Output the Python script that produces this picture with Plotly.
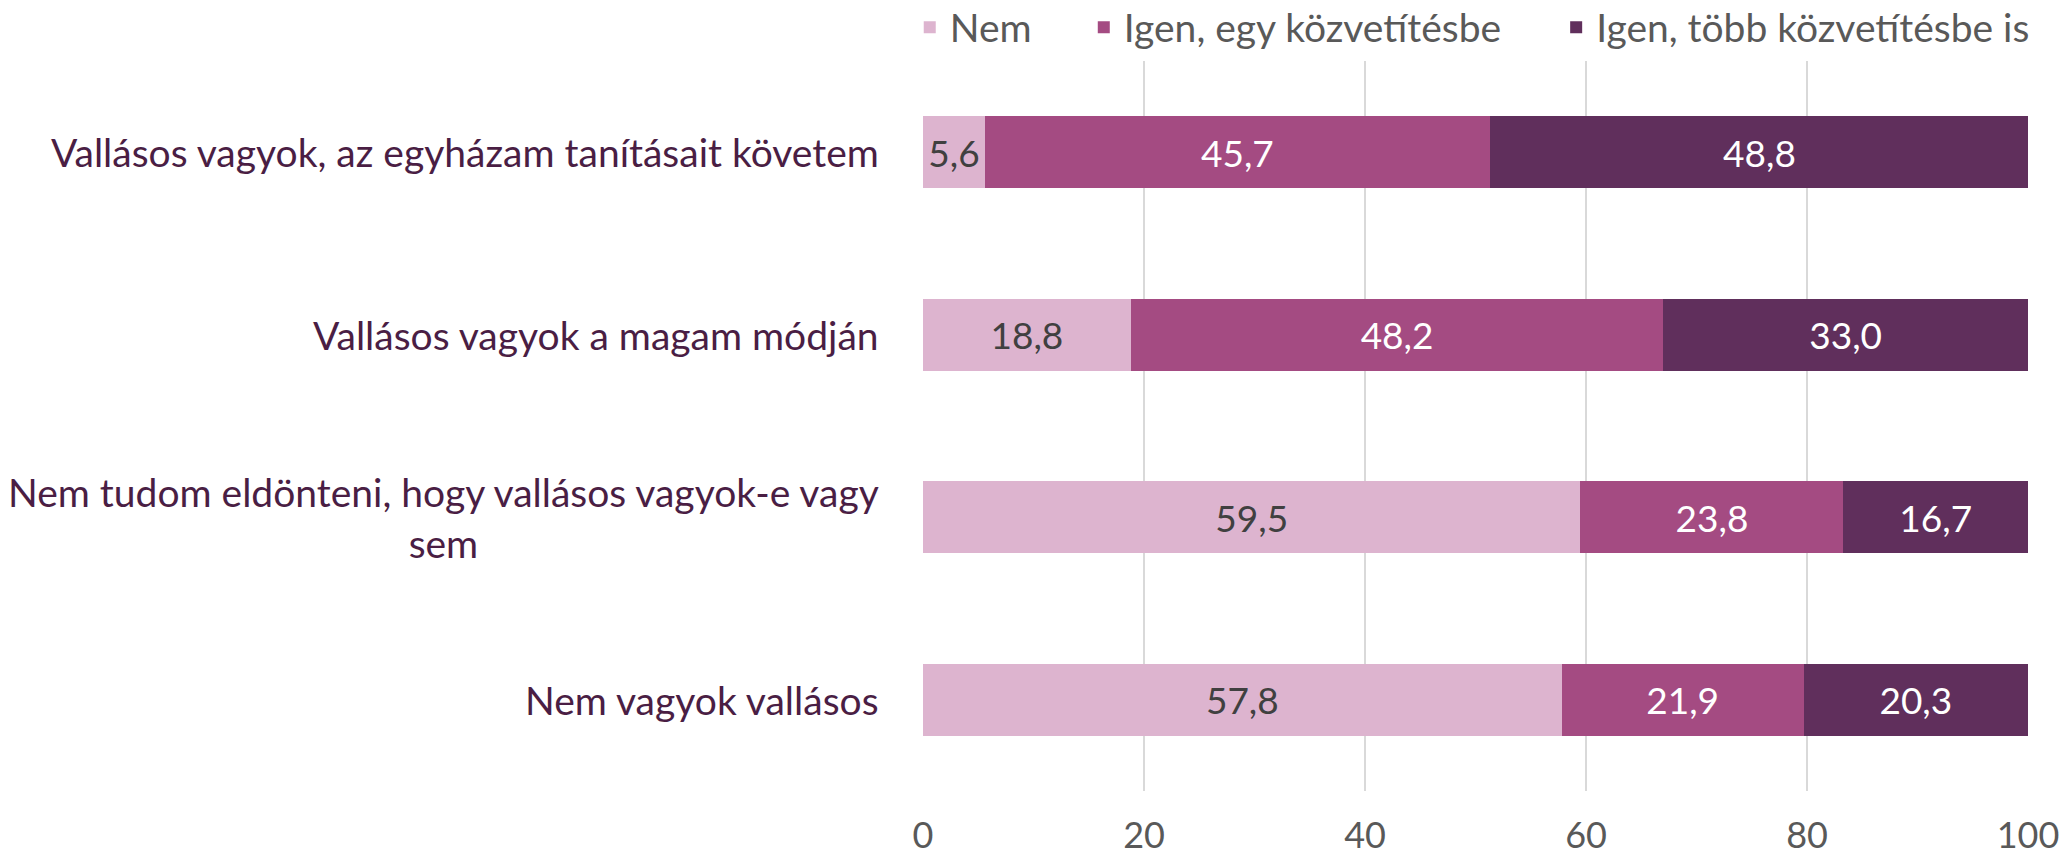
import plotly.graph_objects as go

categories = [
    "Vallásos vagyok, az egyházam tanításait követem",
    "Vallásos vagyok a magam módján",
    "Nem tudom eldönteni, hogy vallásos vagyok-e vagy<br>sem",
    "Nem vagyok vallásos",
]
series_names = ["Nem", "Igen, egy közvetítésbe", "Igen, több közvetítésbe is"]
nem = [5.6, 18.8, 59.5, 57.8]
igen_egy = [45.7, 48.2, 23.8, 21.9]
igen_tobb = [48.8, 33.0, 16.7, 20.3]
x_ticks = [0, 20, 40, 60, 80, 100]

colors = ["#DDB4CF", "#A44B82", "#602F5C"]
text_colors = ["#404040", "#FFFFFF", "#FFFFFF"]
legend_ids = ["legend", "legend2", "legend3"]
legend_x = [-0.012, 0.1455, 0.573]

FONT = "Lato"
FS_LABEL = 39
FS_BAR = 37
FS_TICK = 36
FS_LEG = 39

fig = go.Figure()
for name, vals, col, tcol, lg in zip(series_names, [nem, igen_egy, igen_tobb], colors, text_colors, legend_ids):
    fig.add_trace(go.Bar(
        y=categories, x=vals, name=name, orientation="h",
        marker=dict(color=col, line=dict(width=0)),
        texttemplate="%{x:.1f}", textposition="inside", insidetextanchor="middle",
        textfont=dict(color=tcol, size=FS_BAR, family=FONT),
        legend=lg, showlegend=True, hoverinfo="skip",
    ))

# category labels as annotations (centered multi-line, right-anchored)
for c in categories:
    fig.add_annotation(
        x=0, xref="paper", y=c, yref="y", text=c, showarrow=False,
        xanchor="right", xshift=-42, align="center",
        font=dict(family=FONT, size=FS_LABEL, color="#4A1E44"),
    )

legend_common = dict(orientation="h", yanchor="top", y=1.090, xanchor="left",
                     font=dict(family=FONT, size=FS_LEG, color="#595959"),
                     bgcolor="rgba(0,0,0,0)", borderwidth=0, visible=True)
layout_legends = {}
for lg, lx in zip(legend_ids, legend_x):
    layout_legends[lg] = dict(legend_common, x=lx)

fig.update_layout(
    width=2065, height=862,
    margin=dict(l=923, r=37, t=61, b=71, autoexpand=False),
    showlegend=True,
    barmode="stack", bargap=0.607,
    separators=", ",
    plot_bgcolor="white", paper_bgcolor="white",
    font=dict(family=FONT, size=FS_TICK, color="#595959"),
    uniformtext=dict(minsize=FS_BAR, mode="show"),
    xaxis=dict(range=[0, 100], tickvals=x_ticks, showgrid=True, gridcolor="#D9D9D9",
               gridwidth=2, zeroline=False, showline=False, ticks="",
               tickfont=dict(family=FONT, size=FS_TICK, color="#595959"),
               ticklabelstandoff=20, ticklabeloverflow="allow", fixedrange=True),
    yaxis=dict(categoryorder="array", categoryarray=categories, autorange="reversed",
               showticklabels=False, showgrid=False, zeroline=False, showline=False,
               ticks="", fixedrange=True),
    **layout_legends,
)

fig.write_html(
    "out.html",
    config={"displayModeBar": False},
    post_script="document.body.style.margin='0px';document.body.style.overflow='hidden';",
)
